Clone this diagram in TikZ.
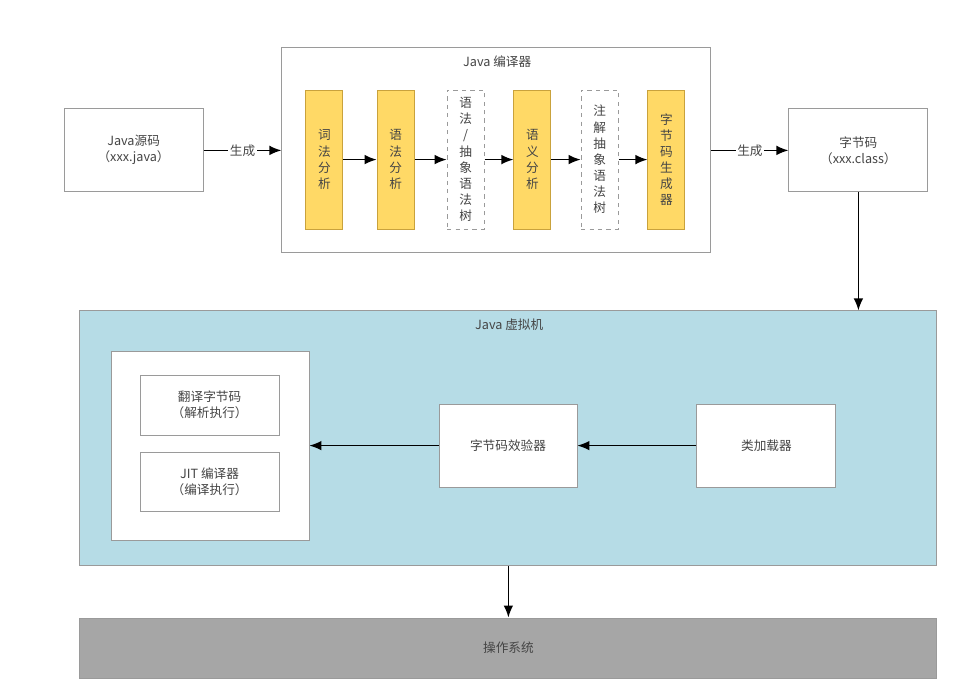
\documentclass[tikz,border=0pt]{standalone}
\usepackage{fontspec}
\setmainfont{Noto Sans CJK SC}
\usetikzlibrary{arrows.meta}
\definecolor{stagefill}{HTML}{FFD966}
\definecolor{stageline}{HTML}{C9A23C}
\definecolor{jvmfill}{HTML}{B6DCE6}
\definecolor{osfill}{HTML}{A6A6A6}
\definecolor{boxline}{HTML}{9A9A9A}
\definecolor{txt}{HTML}{454545}
\begin{document}
\begin{tikzpicture}[>={Latex[length=3mm,width=2.4mm]},semithick,
  font=\fontsize{9}{11.5}\selectfont,text=txt,
  box/.style={draw=boxline,fill=white,align=center,inner sep=0pt},
  stage/.style={draw=stageline,fill=stagefill,align=center,inner sep=0pt,
    minimum width=0.925cm,minimum height=3.475cm},
  treebox/.style={draw=boxline,dashed,fill=white,align=center,inner sep=0pt,
    minimum width=0.925cm,minimum height=3.475cm},
  flow/.style={->,line width=1.1pt,black},
  gen/.style={fill=white,inner sep=1pt,text=txt}]
\useasboundingbox (0,0) rectangle (24.425,17.4);
% source and class file
\node[box,minimum width=3.475cm,minimum height=2.075cm] (src) at (3.34,13.66) {Java源码\\（xxx.java）};
\node[box,minimum width=3.475cm,minimum height=2.075cm] (cls) at (21.46,13.64) {字节码\\（xxx.class）};
% compiler
\node[box,minimum width=10.725cm,minimum height=5.125cm] (javac) at (12.41,13.64) {};
\node[] (javactitle) at (12.43,15.85) {Java 编译器};
\node[stage] (lex) at (8.11,13.41) {词\\法\\分\\析};
\node[stage] (syn) at (9.89,13.41) {语\\法\\分\\析};
\node[treebox] (ast) at (11.64,13.41) {语\\法\\/\\抽\\象\\语\\法\\树};
\node[stage] (sem) at (13.31,13.41) {语\\义\\分\\析};
\node[treebox] (ann) at (14.99,13.41) {注\\解\\抽\\象\\语\\法\\树};
\node[stage] (bcg) at (16.66,13.41) {字\\节\\码\\生\\成\\器};
\draw[flow] (lex) -- (syn);
\draw[flow] (syn) -- (ast);
\draw[flow] (ast) -- (sem);
\draw[flow] (sem) -- (ann);
\draw[flow] (ann) -- (bcg);
\draw[flow] (src.east |- javac) -- node[gen] {生成} (javac.west);
\draw[flow] (javac.east) -- node[gen] {生成} (cls.west |- javac);
% virtual machine
\node[box,fill=jvmfill,minimum width=21.425cm,minimum height=6.375cm] (jvm) at (12.71,6.44) {};
\node[] (jvmtitle) at (12.73,9.275) {Java 虚拟机};
\node[box,minimum width=4.95cm,minimum height=4.725cm] (engine) at (5.25,6.26) {};
\node[box,minimum width=3.475cm,minimum height=1.5cm] (interp) at (5.24,7.275) {翻译字节码\\（解析执行）};
\node[box,minimum width=3.475cm,minimum height=1.475cm] (jit) at (5.24,5.36) {JIT 编译器\\（编译执行）};
\node[box,minimum width=3.45cm,minimum height=2.075cm] (verifier) at (12.7,6.26) {字节码效验器};
\node[box,minimum width=3.475cm,minimum height=2.075cm] (loader) at (19.16,6.26) {类加载器};
\draw[flow,line width=0.9pt] (loader) -- (verifier);
\draw[flow,line width=0.9pt] (verifier) -- (engine);
\draw[flow] (cls.south) -- (cls.south |- jvm.north);
% operating system
\node[box,fill=osfill,minimum width=21.425cm,minimum height=1.5cm] (os) at (12.71,1.2) {操作系统};
\draw[flow] (jvm.south) -- (os.north);
\end{tikzpicture}
\end{document}
